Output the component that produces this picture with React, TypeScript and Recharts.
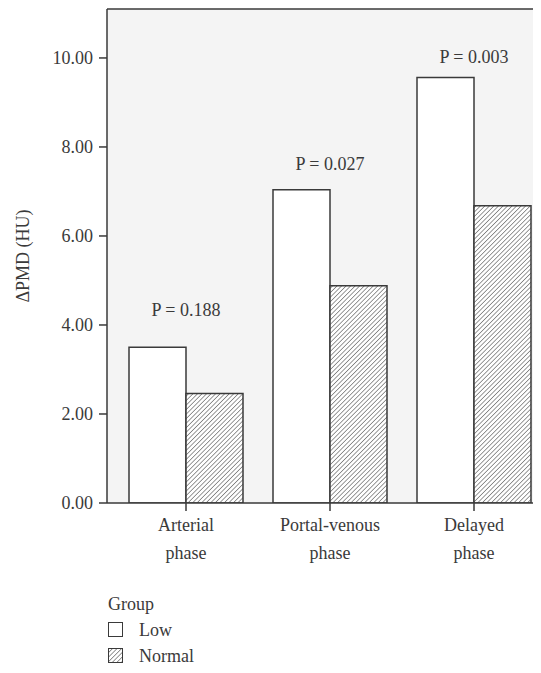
import React from "react";
import { Bar, BarChart, CartesianGrid, ReferenceDot, ReferenceLine, XAxis, YAxis } from "recharts";

const phases = ["Arterial phase", "Portal-venous phase", "Delayed phase"];
const lowValues = [3.5, 7.04, 9.56];
const normalValues = [2.46, 4.88, 6.68];
const pLabels = ["P = 0.188", "P = 0.027", "P = 0.003"];
const pLabelY = [4.35, 7.63, 10.02];
const yTicks = [0, 2, 4, 6, 8, 10];
const yMax = 11.1;
const groups = [
  { key: "low", name: "Low" },
  { key: "normal", name: "Normal" },
];

const data = phases.map((phase, i) => ({ phase, low: lowValues[i], normal: normalValues[i] }));

const FONT = "'Liberation Serif', 'Times New Roman', serif";
const INK = "#3a3a3a";

function PhaseTick({ x, y, payload }: any) {
  const words = String(payload.value).split(" ");
  const lines = words.length > 1 ? [words.slice(0, -1).join(" "), words[words.length - 1]] : words;
  return (
    <text x={x} y={y} textAnchor="middle" fontFamily={FONT} fontSize={18} fill={INK}>
      {lines.map((line, i) => (
        <tspan key={i} x={x} dy={i === 0 ? 18 : 28}>
          {line}
        </tspan>
      ))}
    </text>
  );
}

function AxisTitle({ viewBox }: any) {
  const cx = 15;
  const cy = viewBox.y + viewBox.height / 2;
  return (
    <text x={cx} y={cy} transform={`rotate(-90 ${cx} ${cy})`} textAnchor="middle" dominantBaseline="central" fontFamily={FONT} fontSize={18} fill={INK}>
      ΔPMD (HU)
    </text>
  );
}

function GroupLegend() {
  return (
    <div style={{ position: "absolute", left: 100, top: 583, fontFamily: FONT, fontSize: 18, color: INK, lineHeight: "26px" }}>
      <div>Group</div>
      {groups.map((g) => (
        <div key={g.key} style={{ display: "flex", alignItems: "center" }}>
          <svg width={16} height={16} style={{ marginRight: 15 }}>
            <defs>
              <pattern id={`legend-${g.key}`} width={3.2} height={3.2} patternUnits="userSpaceOnUse" patternTransform="rotate(45)">
                <rect width={3.2} height={3.2} fill="#fff" />
                <line x1={0} y1={0} x2={0} y2={3.2} stroke="#333" strokeWidth={1} />
              </pattern>
            </defs>
            <rect x={0.5} y={0.5} width={14} height={14} fill={g.key === "normal" ? `url(#legend-${g.key})` : "#fff"} stroke={INK} />
          </svg>
          <span>{g.name}</span>
        </div>
      ))}
    </div>
  );
}

export default function App() {
  return (
    <div style={{ position: "relative", width: 533, height: 665, overflow: "hidden" }}>
      <BarChart
        width={546}
        height={665}
        data={data}
        margin={{ top: 1, right: 8, left: 0, bottom: 0 }}
        barCategoryGap={15}
        barGap={0}
      >
        <defs>
          <pattern id="hatch" width={3.2} height={3.2} patternUnits="userSpaceOnUse" patternTransform="rotate(45)">
            <rect width={3.2} height={3.2} fill="#fff" />
            <line x1={0} y1={0} x2={0} y2={3.2} stroke="#333" strokeWidth={1} />
          </pattern>
        </defs>
        <CartesianGrid horizontal={false} vertical={false} fill="#f4f4f4" />
        <XAxis
          dataKey="phase"
          padding={{ left: 7, right: 0 }}
          height={170}
          tickSize={8}
          tick={<PhaseTick />}
          axisLine={{ stroke: INK, strokeWidth: 1.5 }}
          tickLine={{ stroke: INK, strokeWidth: 1.5 }}
          interval={0}
        />
        <YAxis
          width={99}
          domain={[0, yMax]}
          ticks={yTicks}
          allowDataOverflow
          tickFormatter={(v: number) => v.toFixed(2)}
          tickSize={8}
          tickMargin={6}
          tick={{ fontFamily: FONT, fontSize: 18, fill: INK }}
          axisLine={{ stroke: INK, strokeWidth: 1.5 }}
          tickLine={{ stroke: INK, strokeWidth: 1.5 }}
          label={<AxisTitle />}
        />
        <ReferenceLine y={yMax} stroke={INK} strokeWidth={1.5} />
        {groups.map((g) => (
          <Bar
            key={g.key}
            dataKey={g.key}
            name={g.name}
            fill={g.key === "normal" ? "url(#hatch)" : "#fff"}
            stroke={INK}
            strokeWidth={1.5}
            isAnimationActive={false}
          />
        ))}
        {phases.map((phase, i) => (
          <ReferenceDot
            key={phase}
            x={phase}
            y={pLabelY[i]}
            r={0}
            stroke="none"
            label={{ value: pLabels[i], position: "center", fontFamily: FONT, fontSize: 18, fill: INK }}
          />
        ))}
      </BarChart>
      <GroupLegend />
    </div>
  );
}
